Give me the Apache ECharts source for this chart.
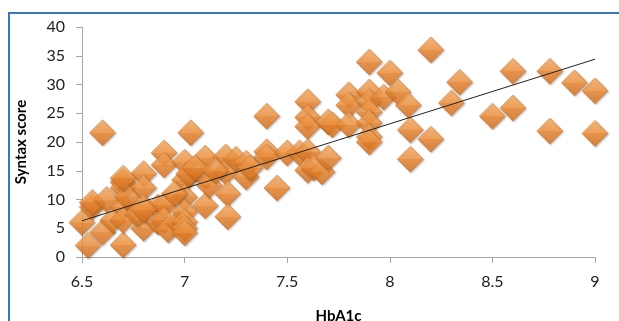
<!DOCTYPE html>
<html>
<head>
<meta charset="utf-8">
<script src="https://cdn.jsdelivr.net/npm/echarts@6/dist/echarts.min.js"></script>
<style>
  html, body { margin: 0; padding: 0; background: #fff; }
  #chart { width: 619px; height: 321px; }
</style>
</head>
<body>
<div id="chart"></div>
<script>
// HbA1c values (x) and Syntax score (y)
const hba1c = [
  6.50, 6.53, 6.55, 6.55, 6.60, 6.60, 6.62, 6.65, 6.70, 6.70,
  6.70, 6.70, 6.70, 6.72, 6.80, 6.80, 6.80, 6.80, 6.77, 6.87,
  6.87, 6.90, 6.90, 6.90, 6.90, 6.92, 6.97, 7.00, 7.00, 7.00,
  7.00, 7.00, 7.00, 7.03, 7.02, 7.10, 7.10, 7.10, 7.12, 7.20,
  7.20, 7.21, 7.21, 7.25, 7.30, 7.30, 7.32, 7.40, 7.40, 7.40,
  7.45, 7.50, 7.56, 7.60, 7.60, 7.60, 7.60, 7.60, 7.63, 7.67,
  7.70, 7.70, 7.72, 7.80, 7.80, 7.80, 7.90, 7.90, 7.90, 7.90,
  7.90, 7.90, 7.90, 7.97, 8.00, 8.04, 8.09, 8.10, 8.10, 8.20,
  8.20, 8.30, 8.34, 8.50, 8.60, 8.60, 8.78, 8.78, 8.90, 9.00,
  9.00, 7.00, 7.05, 6.95, 7.15, 6.70, 6.80
];
const syntaxScore = [
  6.0, 2.0, 8.7, 9.5, 4.3, 21.6, 10.0, 6.4, 2.1, 13.0,
  12.0, 8.7, 6.4, 10.5, 14.5, 12.0, 8.7, 5.0, 7.5, 8.7,
  6.1, 18.1, 16.0, 9.0, 6.4, 4.7, 5.9, 16.5, 13.4, 10.4,
  7.8, 6.1, 5.0, 21.6, 14.5, 17.2, 14.1, 8.9, 12.5, 17.4,
  14.8, 11.0, 7.0, 17.0, 16.3, 13.9, 15.5, 24.5, 18.3, 17.4,
  12.0, 18.1, 18.1, 27.0, 24.3, 22.7, 18.3, 15.1, 15.5, 14.8,
  23.5, 17.2, 23.0, 28.2, 26.4, 23.0, 33.9, 28.7, 27.0, 25.2,
  23.3, 20.9, 20.0, 27.8, 32.0, 28.7, 26.4, 22.1, 17.0, 36.0,
  20.5, 26.8, 30.4, 24.5, 32.3, 25.9, 32.3, 21.9, 30.3, 28.9,
  21.5, 4.2, 15.5, 11.0, 15.0, 13.7, 8.2
];
// linear trendline end points
const trendX = [6.5, 9];
const trendY = [6.3, 34.4];

const points = hba1c.map((x, i) => [x, syntaxScore[i]]);
const trend = trendX.map((x, i) => [x, trendY[i]]);

const chart = echarts.init(document.getElementById('chart'));
const font = 'Lato, "Open Sans", sans-serif';

const option = {
  animation: false,
  backgroundColor: '#fff',
  graphic: [{
    type: 'rect',
    shape: { x: 9, y: 13, width: 700, height: 400 },
    style: { fill: 'none', stroke: '#3a76bb', lineWidth: 2 },
    z: 0
  }],
  grid: { left: 82, right: 24, top: 27, bottom: 64, outerBoundsMode: 'none' },
  xAxis: {
    type: 'value',
    min: 6.5,
    max: 9,
    interval: 0.5,
    name: 'HbA1c',
    nameLocation: 'middle',
    nameGap: 52,
    nameTextStyle: { fontFamily: font, fontSize: 15, fontWeight: 'bold', color: '#000' },
    splitLine: { show: false },
    axisLine: { lineStyle: { color: '#a6a6a6', width: 1 } },
    axisTick: { show: true, length: 6, lineStyle: { color: '#a6a6a6' } },
    axisLabel: { margin: 17, fontFamily: font, fontSize: 16, color: '#222' }
  },
  yAxis: {
    type: 'value',
    min: 0,
    max: 40,
    interval: 5,
    name: 'Syntax score',
    nameLocation: 'middle',
    nameGap: 53,
    nameTextStyle: { fontFamily: font, fontSize: 15, fontWeight: 'bold', color: '#000' },
    splitLine: { show: false },
    axisLine: { show: true, lineStyle: { color: '#a6a6a6', width: 1 } },
    axisTick: { show: true, length: 6, lineStyle: { color: '#a6a6a6' } },
    axisLabel: { margin: 17, fontFamily: font, fontSize: 16, color: '#222' }
  },
  series: [
    {
      type: 'scatter',
      data: points,
      symbol: 'diamond',
      symbolSize: 26,
      itemStyle: {
        // top facet lighter, bottom facet darker (bevelled look)
        color: {
          type: 'linear', x: 0, y: 0, x2: 0, y2: 1,
          colorStops: [
            { offset: 0, color: '#fdb36a' },
            { offset: 0.5, color: '#f8963f' },
            { offset: 0.5, color: '#ee872f' },
            { offset: 1, color: '#d8721d' }
          ]
        },
        borderColor: '#c96a1c',
        borderWidth: 0.6,
        shadowColor: 'rgba(0,0,0,0.3)',
        shadowBlur: 2,
        shadowOffsetX: 1,
        shadowOffsetY: 1
      },
      z: 2
    },
    {
      type: 'line',
      data: trend,
      symbol: 'none',
      lineStyle: { color: '#222', width: 1 },
      z: 3
    }
  ]
};

chart.setOption(option);
</script>
</body>
</html>
